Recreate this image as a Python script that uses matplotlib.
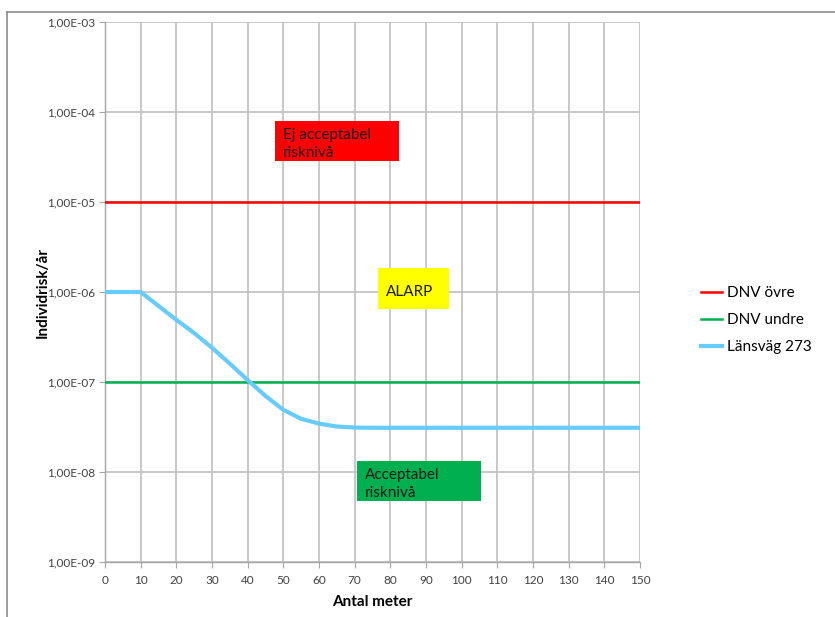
import matplotlib
matplotlib.use("Agg")
import matplotlib.pyplot as plt
from matplotlib.ticker import FixedLocator, FuncFormatter
from matplotlib.patches import Rectangle
from matplotlib.lines import Line2D

plt.rcParams['font.family'] = ['Lato', 'DejaVu Sans']

# data
meter = [0, 5, 10, 15, 20, 25, 30, 35, 40, 45, 50, 55, 60, 65, 70, 75,
         80, 90, 100, 110, 120, 130, 140, 150]
lansvag = [1.0e-6, 1.0e-6, 1.0e-6, 7.0e-7, 4.9e-7, 3.5e-7, 2.4e-7, 1.6e-7,
           1.05e-7, 7.0e-8, 4.9e-8, 3.9e-8, 3.45e-8, 3.2e-8, 3.12e-8, 3.1e-8,
           3.1e-8, 3.1e-8, 3.1e-8, 3.1e-8, 3.1e-8, 3.1e-8, 3.1e-8, 3.1e-8]
dnv_ovre = 1e-5
dnv_undre = 1e-7
x_ticks = list(range(0, 151, 10))
y_ticks = [1e-9, 1e-8, 1e-7, 1e-6, 1e-5, 1e-4, 1e-3]

fig = plt.figure(figsize=(8.35, 6.17), dpi=100)
ax = fig.add_axes([105/835, 1 - 562/617, 535/835, 540/617])

grid_c = '#c4c4c4'
ax.set_xlim(0, 150)
ax.set_ylim(1e-9, 1e-3)
ax.set_yscale('log')
ax.xaxis.set_major_locator(FixedLocator(x_ticks))
ax.yaxis.set_major_locator(FixedLocator(y_ticks))
ax.yaxis.set_minor_locator(FixedLocator([]))
ax.yaxis.set_major_formatter(FuncFormatter(
    lambda v, p: ('%.2E' % v).replace('.', ',')))
ax.grid(True, color=grid_c, linewidth=1.3)
ax.set_axisbelow(True)
for s in ['top', 'right']:
    ax.spines[s].set_visible(False)
for s in ['left', 'bottom']:
    ax.spines[s].set_color('#a6a6a6')
    ax.spines[s].set_linewidth(1.0)
ax.tick_params(axis='both', colors='#a6a6a6', labelcolor='#404040',
               labelsize=8.5, length=4, direction='out')
ax.tick_params(axis='y', pad=3)
ax.tick_params(axis='x', pad=5)

ax.plot([0, 150], [dnv_ovre, dnv_ovre], color='#ff0000', lw=1.8, zorder=3)
ax.plot([0, 150], [dnv_undre, dnv_undre], color='#00b050', lw=1.8, zorder=3)
ax.plot(meter, lansvag, color='#66ccff', lw=3, solid_joinstyle='round', zorder=4)

ax.set_xlabel('Antal meter', fontsize=11, fontweight='bold', labelpad=7)
ax.set_ylabel('Individrisk/år', fontsize=11, fontweight='bold', labelpad=-2)

# region boxes (figure pixel coords)
def box(x0, y0, x1, y1, color, text):
    fig.patches.append(Rectangle((x0/835, 1 - y1/617), (x1 - x0)/835,
                                 (y1 - y0)/617, transform=fig.transFigure,
                                 facecolor=color, edgecolor='none', zorder=5))
    fig.text((x0 + 8)/835, 1 - ((y0 + y1)/2 + 3)/617, text, fontsize=11,
             color='#1a1a1a', va='center', ha='left', linespacing=1.45, zorder=6)

box(275, 121, 399, 161, '#ff0000', 'Ej acceptabel\nrisknivå')
box(378, 268, 449, 309, '#ffff00', 'ALARP')
box(357, 461, 481, 501, '#00b050', 'Acceptabel\nrisknivå')

handles = [Line2D([], [], color='#ff0000', lw=1.8),
           Line2D([], [], color='#00b050', lw=1.8),
           Line2D([], [], color='#66ccff', lw=3)]
fig.legend(handles, ['DNV övre', 'DNV undre', 'Länsväg 273'],
           loc='center left', bbox_to_anchor=(687/835, 1 - 320/617),
           frameon=False, fontsize=11, handlelength=1.4, handletextpad=0.3,
           labelspacing=0.85)

# outer chart frame (left and top edges visible)
fig.add_artist(Line2D([7/835, 7/835], [0, 1 - 12/617], color='#8c8c8c',
                      lw=1.2, transform=fig.transFigure))
fig.add_artist(Line2D([7/835, 1], [1 - 12/617, 1 - 12/617], color='#8c8c8c',
                      lw=1.2, transform=fig.transFigure))

fig.savefig('out.png', dpi=100)
